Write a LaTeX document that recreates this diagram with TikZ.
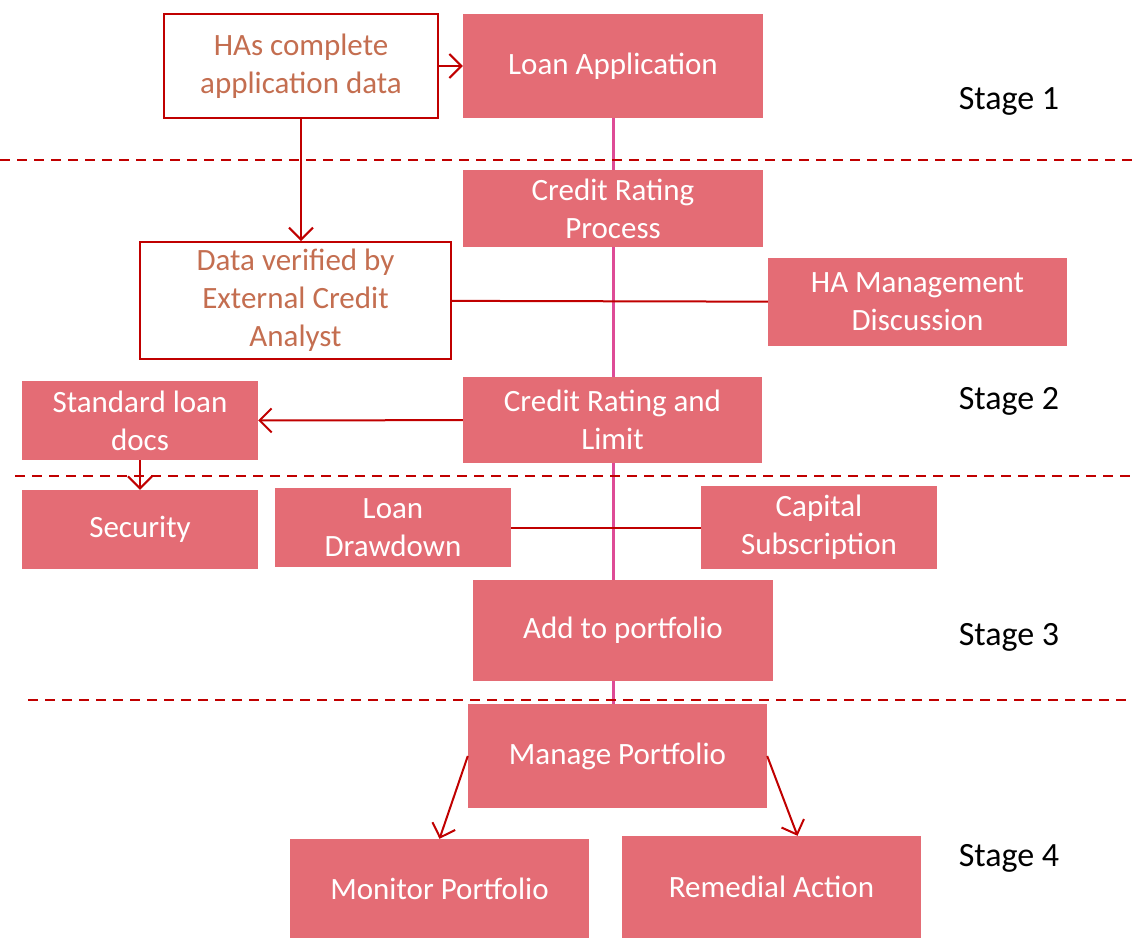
\documentclass[tikz,border=0pt]{standalone}
\usepackage{fontspec}
\setmainfont{Carlito}
\usepackage{tikz}
\usetikzlibrary{arrows.meta, positioning, backgrounds}

\definecolor{boxfill}{RGB}{228,108,117}
\definecolor{linkred}{RGB}{192,0,0}
\definecolor{spine}{RGB}{222,75,150}
\definecolor{notetext}{RGB}{196,110,80}

\begin{document}
\begin{tikzpicture}[
    x=1pt, y=-1pt,
    process/.style={rectangle, fill=boxfill, text=white, align=center, inner sep=0pt, font=\fontsize{31}{38}\selectfont},
    note/.style={rectangle, draw=linkred, line width=2pt, fill=white, text=notetext, align=center, inner sep=0pt, font=\fontsize{31}{38}\selectfont},
    stagelabel/.style={text=black, font=\fontsize{34}{40}\selectfont},
    arrow/.style={draw=linkred, line width=2pt, -{Straight Barb[length=12pt, width=24pt]}},
    link/.style={draw=linkred, line width=2pt},
    divider/.style={draw=linkred, line width=2pt, dash pattern=on 10pt off 7pt},
]
\useasboundingbox (0,0) rectangle (1132,938);

% Stage dividers
\draw[divider] (0,160) -- (1132,160);
\draw[divider] (15,476) -- (1132,476);
\draw[divider] (28,700) -- (1132,700);

% Stage 1
\node[note, minimum width=274pt, minimum height=104pt] (apply) at (301,66) {HAs complete\\application data};
\node[process, minimum width=300pt, minimum height=104pt] (loanapp) at (613,66) {Loan Application};

% Stage 2
\node[process, minimum width=300pt, minimum height=77pt] (rating) at (613,208.5) {Credit Rating\\Process};
\node[note, minimum width=311pt, minimum height=117pt] (verify) at (295.5,300.5) {Data verified by\\External Credit\\Analyst};
\node[process, minimum width=299pt, minimum height=88pt] (mgmt) at (917.5,302) {HA Management\\Discussion};
\node[process, minimum width=236pt, minimum height=79pt] (docs) at (140,420.5) {Standard loan\\docs};
\node[process, minimum width=299pt, minimum height=86pt] (limit) at (612.5,420) {Credit Rating and\\Limit};

% Stage 3
\node[process, minimum width=236pt, minimum height=79pt] (security) at (140,529.5) {Security};
\node[process, minimum width=236pt, minimum height=79pt] (drawdown) at (393,527.5) {Loan\\Drawdown};
\node[process, minimum width=236pt, minimum height=83pt] (capital) at (819,527.5) {Capital\\Subscription};
\node[process, minimum width=300pt, minimum height=101pt] (portfolio) at (623,630.5) {Add to portfolio};

% Stage 4
\node[process, minimum width=299pt, minimum height=104pt] (manage) at (617.5,756) {Manage Portfolio};
\node[process, minimum width=299pt, minimum height=99pt] (monitor) at (439.5,888.5) {Monitor Portfolio};
\node[process, minimum width=299pt, minimum height=102pt] (remedial) at (771.5,887) {Remedial Action};

% Stage labels
\node[stagelabel] (stage1) at (1009,101) {Stage 1};
\node[stagelabel] (stage2) at (1009,401) {Stage 2};
\node[stagelabel] (stage3) at (1009,637) {Stage 3};
\node[stagelabel] (stage4) at (1009,858) {Stage 4};

% Main spine
\begin{scope}[on background layer]
\draw[spine, line width=3pt] (loanapp.south) -- (loanapp.south |- manage.north);
\end{scope}

% Arrows
\draw[arrow] (apply) -- (loanapp);
\draw[arrow] (apply.south) -- (apply.south |- verify.north);
\draw[link] (verify) -- (mgmt);
\draw[arrow] (limit) -- (docs);
\draw[arrow] (docs) -- (security);
\draw[link] (drawdown) -- (capital);
\draw[arrow] (manage.west) -- (monitor.north);
\draw[arrow] (manage.east) -- ([xshift=26pt]remedial.north);

\end{tikzpicture}
\end{document}
